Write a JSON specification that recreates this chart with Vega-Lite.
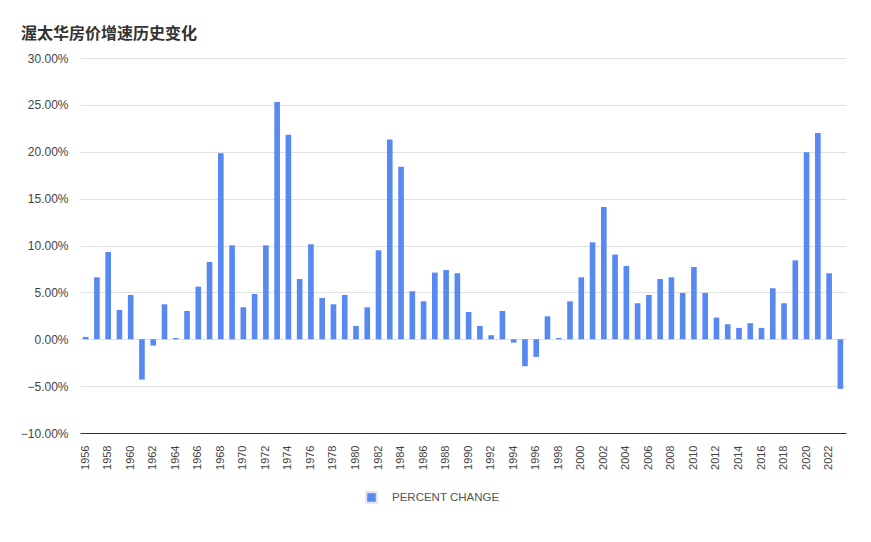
{
  "$schema": "https://vega.github.io/schema/vega-lite/v6.json",
  "autosize": {"type": "none"},
  "width": 766,
  "height": 375,
  "padding": {"left": 80, "top": 58, "right": 25, "bottom": 109},
  "background": "#ffffff",
  "title": {
    "text": "渥太华房价增速历史变化",
    "anchor": "start",
    "frame": "group",
    "dx": -59,
    "dy": 4,
    "fontSize": 16,
    "fontWeight": "bold",
    "color": "#333333",
    "font": "Noto Sans CJK SC",
    "offset": 14
  },
  "config": {
    "view": {"stroke": null},
    "font": "Liberation Sans"
  },
  "data": {
    "values": [
      {"year": 1956, "pct": 0.0025},
      {"year": 1957, "pct": 0.0661},
      {"year": 1958, "pct": 0.0931},
      {"year": 1959, "pct": 0.0313},
      {"year": 1960, "pct": 0.0473},
      {"year": 1961, "pct": -0.0430},
      {"year": 1962, "pct": -0.0068},
      {"year": 1963, "pct": 0.0373},
      {"year": 1964, "pct": 0.0014},
      {"year": 1965, "pct": 0.0302},
      {"year": 1966, "pct": 0.0561},
      {"year": 1967, "pct": 0.0824},
      {"year": 1968, "pct": 0.1983},
      {"year": 1969, "pct": 0.1002},
      {"year": 1970, "pct": 0.0341},
      {"year": 1971, "pct": 0.0483},
      {"year": 1972, "pct": 0.1002},
      {"year": 1973, "pct": 0.2530},
      {"year": 1974, "pct": 0.2182},
      {"year": 1975, "pct": 0.0643},
      {"year": 1976, "pct": 0.1013},
      {"year": 1977, "pct": 0.0441},
      {"year": 1978, "pct": 0.0373},
      {"year": 1979, "pct": 0.0473},
      {"year": 1980, "pct": 0.0142},
      {"year": 1981, "pct": 0.0341},
      {"year": 1982, "pct": 0.0949},
      {"year": 1983, "pct": 0.2132},
      {"year": 1984, "pct": 0.1841},
      {"year": 1985, "pct": 0.0512},
      {"year": 1986, "pct": 0.0405},
      {"year": 1987, "pct": 0.0711},
      {"year": 1988, "pct": 0.0739},
      {"year": 1989, "pct": 0.0704},
      {"year": 1990, "pct": 0.0291},
      {"year": 1991, "pct": 0.0142},
      {"year": 1992, "pct": 0.0043},
      {"year": 1993, "pct": 0.0302},
      {"year": 1994, "pct": -0.0036},
      {"year": 1995, "pct": -0.0288},
      {"year": 1996, "pct": -0.0188},
      {"year": 1997, "pct": 0.0245},
      {"year": 1998, "pct": 0.0014},
      {"year": 1999, "pct": 0.0405},
      {"year": 2000, "pct": 0.0661},
      {"year": 2001, "pct": 0.1034},
      {"year": 2002, "pct": 0.1411},
      {"year": 2003, "pct": 0.0903},
      {"year": 2004, "pct": 0.0782},
      {"year": 2005, "pct": 0.0384},
      {"year": 2006, "pct": 0.0473},
      {"year": 2007, "pct": 0.0643},
      {"year": 2008, "pct": 0.0661},
      {"year": 2009, "pct": 0.0494},
      {"year": 2010, "pct": 0.0771},
      {"year": 2011, "pct": 0.0494},
      {"year": 2012, "pct": 0.0231},
      {"year": 2013, "pct": 0.0160},
      {"year": 2014, "pct": 0.0121},
      {"year": 2015, "pct": 0.0171},
      {"year": 2016, "pct": 0.0121},
      {"year": 2017, "pct": 0.0544},
      {"year": 2018, "pct": 0.0384},
      {"year": 2019, "pct": 0.0842},
      {"year": 2020, "pct": 0.1994},
      {"year": 2021, "pct": 0.2200},
      {"year": 2022, "pct": 0.0704},
      {"year": 2023, "pct": -0.0529}
    ]
  },
  "mark": {"type": "bar"},
  "encoding": {
    "x": {
      "field": "year",
      "type": "ordinal",
      "scale": {"paddingInner": 0.5, "paddingOuter": 0.25},
      "axis": {
        "title": null,
        "labelAngle": 270,
        "labelExpr": "datum.value % 2 == 0 ? datum.label : ''",
        "ticks": false,
        "labelPadding": 12,
        "labelFontSize": 11,
        "labelColor": "#444444",
        "domainColor": "#333333",
        "domainWidth": 1,
        "grid": false,
        "labelBaseline": "middle"
      }
    },
    "y": {
      "field": "pct",
      "type": "quantitative",
      "scale": {"domain": [-0.1, 0.3], "nice": false, "zero": false},
      "axis": {
        "title": null,
        "format": ".2%",
        "values": [-0.1, -0.05, 0, 0.05, 0.1, 0.15, 0.2, 0.25, 0.3],
        "domain": false,
        "ticks": false,
        "labelPadding": 12,
        "labelFontSize": 12,
        "labelColor": "#444444",
        "gridColor": "#e0e0e0",
        "gridWidth": 1
      }
    },
    "color": {
      "datum": "PERCENT CHANGE",
      "scale": {"range": ["#5789f1"]},
      "legend": {
        "title": null,
        "orient": "none",
        "legendX": 285,
        "legendY": 433,
        "symbolType": "square",
        "symbolSize": 110,
        "symbolStrokeColor": "#dde3ee",
        "symbolStrokeWidth": 2,
        "labelFontSize": 11.5,
        "labelColor": "#555555",
        "labelOffset": 14
      }
    }
  }
}
